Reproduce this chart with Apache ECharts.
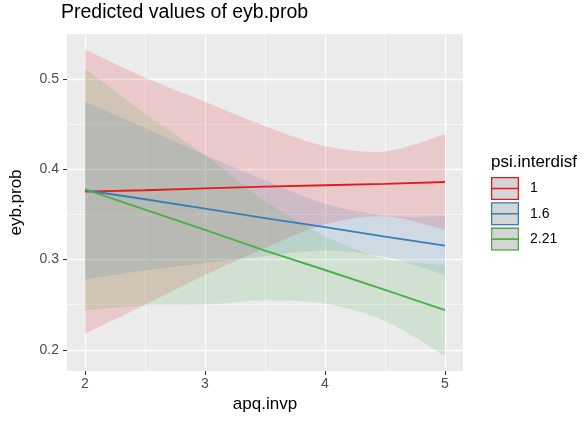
<!DOCTYPE html>
<html>
<head>
<meta charset="utf-8">
<script src="https://cdn.jsdelivr.net/npm/echarts@6/dist/echarts.min.js"></script>
<style>
html,body{margin:0;padding:0;background:#fff;}
#chart{width:584px;height:423px;}
</style>
</head>
<body>
<div id="chart"></div>
<script>
// ---- data ----
const xValues = [2, 2.5, 3, 3.5, 4, 4.5, 5];
const groupNames = ['1', '1.6', '2.21'];

const fit1   = [0.3754, 0.377, 0.379, 0.381, 0.3825, 0.384, 0.386];
const upper1 = [0.533, 0.502, 0.475, 0.448, 0.426, 0.420, 0.439];
const lower1 = [0.218, 0.250, 0.283, 0.313, 0.339, 0.348, 0.333];

const fit16   = [0.377, 0.367, 0.3565, 0.346, 0.336, 0.3255, 0.3155];
const upper16 = [0.475, 0.446, 0.416, 0.388, 0.362, 0.349, 0.348];
const lower16 = [0.278, 0.288, 0.296, 0.304, 0.310, 0.303, 0.283];

const fit221   = [0.378, 0.3555, 0.333, 0.310, 0.2885, 0.2665, 0.244];
const upper221 = [0.512, 0.462, 0.416, 0.365, 0.326, 0.301, 0.294];
const lower221 = [0.2435, 0.249, 0.250, 0.255, 0.251, 0.232, 0.193];

const xMajorTicks = [2, 3, 4, 5];
const xMinorTicks = [2.5, 3.5, 4.5];
const yMajorTicks = [0.2, 0.3, 0.4, 0.5];
const yMinorTicks = [0.25, 0.35, 0.45];

// ---- build ----
const colors = ['#E41A1C', '#377EB8', '#4DAF4A'];
const fits = [fit1, fit16, fit221];
const uppers = [upper1, upper16, upper221];
const lowers = [lower1, lower16, lower221];
const FONT = 'Liberation Sans, Arial, sans-serif';

function hexA(hex, a) {
  const r = parseInt(hex.slice(1,3),16), g = parseInt(hex.slice(3,5),16), b = parseInt(hex.slice(5,7),16);
  return `rgba(${r},${g},${b},${a})`;
}

// Catmull-Rom spline through pixel points -> cubic bezier path segments (continuing from first point)
function splineSegs(pts, t) {
  let d = '';
  for (let i = 0; i < pts.length - 1; i++) {
    const p0 = pts[i - 1] || pts[i];
    const p1 = pts[i];
    const p2 = pts[i + 1];
    const p3 = pts[i + 2] || pts[i + 1];
    const c1 = [p1[0] + (p2[0] - p0[0]) * t, p1[1] + (p2[1] - p0[1]) * t];
    const c2 = [p2[0] - (p3[0] - p1[0]) * t, p2[1] - (p3[1] - p1[1]) * t];
    d += ` C${c1[0]},${c1[1]} ${c2[0]},${c2[1]} ${p2[0]},${p2[1]}`;
  }
  return d;
}

const series = [];
groupNames.forEach((name, i) => {
  series.push({
    name: 'band_' + name, type: 'custom', silent: true, z: 1,
    xAxisIndex: 0, yAxisIndex: 0,
    data: [[xValues[0], lowers[i][0]]],
    renderItem: function (params, api) {
      const up = xValues.map((x, k) => api.coord([x, uppers[i][k]]));
      const lo = xValues.map((x, k) => api.coord([x, lowers[i][k]])).reverse();
      let d = `M${up[0][0]},${up[0][1]}` + splineSegs(up, 1 / 6);
      d += ` L${lo[0][0]},${lo[0][1]}` + splineSegs(lo, 1 / 6) + ' Z';
      return {
        type: 'path',
        shape: {pathData: d},
        style: {fill: hexA(colors[i], 0.16), stroke: null}
      };
    }
  });
});
groupNames.forEach((name, i) => {
  series.push({
    name: name, type: 'line', symbol: 'none', color: colors[i],
    lineStyle: {color: colors[i], width: 1.9},
    data: xValues.map((x, k) => [x, fits[i][k]]), z: 3
  });
});

const xMin = 1.85, xMax = 5.15, yMin = 0.1765, yMax = 0.5502;

const keyPath = 'path://M0,0H28V23H0Z M1.3,1.3V21.7H26.7V1.3Z M1.3,10.7H26.7V12.3H1.3Z';

const option = {
  animation: false,
  backgroundColor: '#ffffff',
  title: [
    {text: 'Predicted values of eyb.prob', left: 61, top: 3, padding: 0,
     textStyle: {fontSize: 19.5, fontWeight: 'normal', color: '#000', fontFamily: FONT}},
    {text: 'psi.interdisf', left: 491, top: 154, padding: 0,
     textStyle: {fontSize: 17, fontWeight: 'normal', color: '#000', fontFamily: FONT}}
  ],
  grid: {left: 67, right: 121, top: 34, bottom: 52, containLabel: false,
         show: true, backgroundColor: '#EBEBEB', borderWidth: 0},
  legend: [
    {
      z: 4, orient: 'vertical', left: 491, top: 177, padding: 0,
      itemWidth: 28, itemHeight: 23, itemGap: 2.3, selectedMode: false,
      formatter: () => '',
      data: groupNames.map(n => ({name: n, icon: 'rect', itemStyle: {color: '#D5D5D5', borderWidth: 0}})),
      textStyle: {fontSize: 14}
    },
    {
      z: 5, orient: 'vertical', left: 491, top: 177, padding: 0,
      itemWidth: 28, itemHeight: 23, itemGap: 2.3, selectedMode: false,
      data: groupNames.map((n, i) => ({name: n, icon: keyPath, itemStyle: {color: colors[i], borderWidth: 0}})),
      textStyle: {fontSize: 14, color: '#000', fontFamily: FONT, padding: [0, 0, 0, 6]}
    }
  ],
  xAxis: [
    {
      type: 'value', min: xMin, max: xMax,
      name: 'apq.invp', nameLocation: 'middle', nameGap: 21,
      nameTextStyle: {fontSize: 17, color: '#000', fontFamily: FONT},
      axisLine: {show: false},
      axisTick: {show: true, length: 4, customValues: xMajorTicks, lineStyle: {color: '#333333', width: 1}},
      axisLabel: {customValues: xMajorTicks, margin: 6, fontSize: 14, color: '#4D4D4D', fontFamily: FONT},
      splitLine: {show: true, lineStyle: {color: '#FFFFFF', width: 1.3}}
    },
    {
      type: 'value', min: xMin, max: xMax, position: 'bottom',
      axisLine: {show: false},
      axisTick: {show: false, customValues: xMinorTicks},
      axisLabel: {show: false, customValues: xMinorTicks},
      splitLine: {show: true, lineStyle: {color: '#FFFFFF', width: 0.6}}
    }
  ],
  yAxis: [
    {
      type: 'value', min: yMin, max: yMax,
      name: 'eyb.prob', nameLocation: 'middle', nameGap: 42,
      nameTextStyle: {fontSize: 17, color: '#000', fontFamily: FONT},
      axisLine: {show: false},
      axisTick: {show: true, length: 4, customValues: yMajorTicks, lineStyle: {color: '#333333', width: 1}},
      axisLabel: {customValues: yMajorTicks, margin: 8, fontSize: 14, color: '#4D4D4D', fontFamily: FONT,
                  formatter: v => v.toFixed(1)},
      splitLine: {show: true, lineStyle: {color: '#FFFFFF', width: 1.3}}
    },
    {
      type: 'value', min: yMin, max: yMax, position: 'left',
      axisLine: {show: false},
      axisTick: {show: false, customValues: yMinorTicks},
      axisLabel: {show: false, customValues: yMinorTicks},
      splitLine: {show: true, lineStyle: {color: '#FFFFFF', width: 0.6}}
    }
  ],
  series: series
};

const chart = echarts.init(document.getElementById('chart'), null, {renderer: 'canvas'});
chart.setOption(option);
</script>
</body>
</html>
